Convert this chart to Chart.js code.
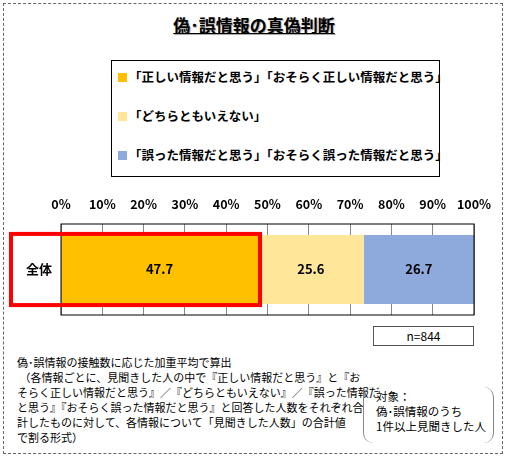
<!DOCTYPE html>
<html><head><meta charset="utf-8">
<script src="https://cdn.jsdelivr.net/npm/chart.js"></script>
<style>
body{margin:0;width:508px;height:457px;position:relative;font-family:"Noto Sans CJK JP",sans-serif;background:#fff;overflow:hidden}
.frame{position:absolute;left:3px;top:3px;width:498px;height:449px;border:1px dashed #666}
.title{position:absolute;left:0;width:508px;top:12px;text-align:center;font-weight:bold;font-size:17px;text-decoration:underline;text-shadow:1px 1px 1px #aaa}
.legend{position:absolute;left:111px;top:60px;width:327px;height:115px;border:1px solid #000;font-size:12.5px;font-weight:bold}
.legend div{position:absolute;left:6px;white-space:nowrap}
.legend span{display:inline-block;width:9px;height:9px;margin-right:2px}
.n{position:absolute;left:373px;top:326px;width:99px;height:18px;border:1px solid #555;font-size:12px;text-align:center;line-height:18px}
.note{position:absolute;left:17px;top:355px;font-size:11px;line-height:15px;white-space:pre}
.target{position:absolute;left:363px;top:387px;width:131px;height:56px;border-left:1px solid #888;border-right:1px solid #888;border-radius:10px;font-size:11.5px;line-height:15px;padding:2px 0 0 12px;box-sizing:border-box}
</style></head><body>
<div class="frame"></div>
<div class="title">偽･誤情報の真偽判断</div>
<div class="legend">
<div style="top:6px"><span style="background:#FFC000"></span>「正しい情報だと思う」「おそらく正しい情報だと思う」</div>
<div style="top:45px"><span style="background:#FFE699"></span>「どちらともいえない」</div>
<div style="top:84px"><span style="background:#8EA9DB"></span>「誤った情報だと思う」「おそらく誤った情報だと思う」</div>
</div>
<div style="position:absolute;left:0;top:185px;width:508px;height:138px"><canvas id="c"></canvas></div>
<div class="n">n=844</div>
<div class="note">偽･誤情報の接触数に応じた加重平均で算出
 （各情報ごとに、見聞きした人の中で『正しい情報だと思う』と『お
そらく正しい情報だと思う』／『どちらともいえない』／『誤った情報だ
と思う』『おそらく誤った情報だと思う』と回答した人数をそれぞれ合
計したものに対して、各情報について「見聞きした人数」の合計値
で割る形式）</div>
<div class="target">対象：<br>偽･誤情報のうち<br>1件以上見聞きした人</div>
<script>
const categories=["全体"];
const seriesNames=["「正しい情報だと思う」「おそらく正しい情報だと思う」","「どちらともいえない」","「誤った情報だと思う」「おそらく誤った情報だと思う」"];
const seriesValues=[[47.7],[25.6],[26.7]];
const colors=["#FFC000","#FFE699","#8EA9DB"];
const extra={id:'extra',afterDatasetsDraw(ch){
 const c=ch.ctx,x=ch.scales.x,y=ch.scales.y,a=ch.chartArea;
 c.save();
 c.font="bold 13px 'Noto Sans CJK JP'";c.textAlign="center";c.textBaseline="middle";c.fillStyle="#000";
 let cum=0;
 seriesValues.forEach(v=>{const m=x.getPixelForValue(cum+v[0]/2);c.fillText(v[0].toFixed(1),m,y.getPixelForValue(0));cum+=v[0];});
 c.fillText(categories[0],a.left-22,y.getPixelForValue(0));
 c.strokeStyle="#000";c.lineWidth=1;c.strokeRect(a.left,a.top,a.right-a.left,a.bottom-a.top);
 c.strokeStyle="#FF0000";c.lineWidth=4;
 const bar=ch.getDatasetMeta(0).data[0];
 c.strokeRect(11,bar.y-bar.height/2-1,x.getPixelForValue(seriesValues[0][0])-9,bar.height+2);
 c.restore();}};
new Chart(document.getElementById('c'),{type:'bar',
 data:{labels:categories,datasets:seriesNames.map((n,i)=>({label:n,data:seriesValues[i],backgroundColor:colors[i],barPercentage:0.76,categoryPercentage:1}))},
 options:{indexAxis:'y',responsive:true,maintainAspectRatio:false,animation:false,
  layout:{padding:{left:53,right:34,top:0,bottom:8}},
  plugins:{legend:{display:false},tooltip:{enabled:false}},
  scales:{x:{position:'top',stacked:true,min:0,max:100,
    ticks:{stepSize:10,callback:v=>v+'%',color:'#000',font:{weight:'bold',size:12.5,family:"'Noto Sans CJK JP'"},padding:12},
    grid:{color:'#888',drawTicks:false},border:{display:false}},
   y:{stacked:true,ticks:{display:false},grid:{display:false},border:{display:false}}}},
 plugins:[extra]});
</script></body></html>
